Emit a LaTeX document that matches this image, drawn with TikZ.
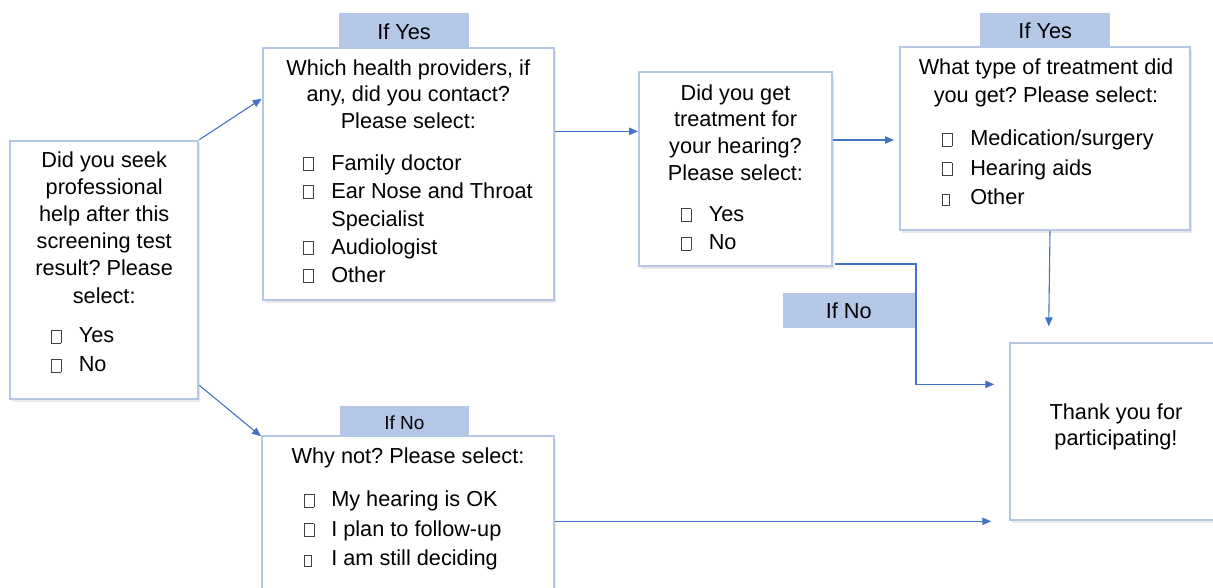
\documentclass[tikz,border=0pt]{standalone}
\usepackage{fontspec}
\setmainfont{Liberation Sans}
\usetikzlibrary{calc,shadows,arrows.meta}
\definecolor{boxc}{HTML}{B4C7E7}
\definecolor{tagc}{HTML}{B4C7E7}
\definecolor{arrc}{HTML}{4472C4}
\frenchspacing
\newcommand\cbx{{\setlength\fboxsep{0pt}\setlength\fboxrule{0.75pt}\color{black!75}\fbox{\rule{0pt}{12.3pt}\hspace{8.6pt}}}}
\newcommand\cbs{{\setlength\fboxsep{0pt}\setlength\fboxrule{0.75pt}\color{black!75}\fbox{\rule{0pt}{9.6pt}\hspace{6.4pt}}}}
\begin{document}
\begin{tikzpicture}[x=1pt,y=-1pt,
  qbox/.style={draw=boxc,line width=2pt,fill=white,inner sep=0pt,
    drop shadow={shadow xshift=2pt,shadow yshift=-2.5pt,opacity=0.18}},
  tagbox/.style={fill=tagc,inner sep=0pt,text depth=0pt,font=\fontsize{21.7}{26}\selectfont},
  ttl/.style={inner sep=0pt,align=center,anchor=north},
  itm/.style={inner sep=0pt,align=left,anchor=north west},
  arr/.style={draw=arrc,line width=1.1pt,-{Triangle[length=9pt,width=7.5pt]}}]
\useasboundingbox (0,0) rectangle (1213,587);

% tags
\node[tagbox,minimum width=130,minimum height=34.4,text height=17.6] (tB) at (404,30.5) {If Yes};
\node[tagbox,minimum width=130.5,minimum height=34.3,text height=16.3] (tD) at (1045.2,29.85) {If Yes};
\node[tagbox,minimum width=131.6,minimum height=35,text height=15.6] (tM) at (848.8,310.2) {If No};
\node[tagbox,minimum width=129.3,minimum height=30,text height=16.6,font=\fontsize{19}{23}\selectfont] (tF) at (404.4,420.7) {If No};

% boxes
\node[qbox,minimum width=188.3,minimum height=258.6] (A) at (104.2,270) {};
\node[qbox,minimum width=291.3,minimum height=251.7] (B) at (408.3,174.2) {};
\node[qbox,minimum width=193,minimum height=194] (C) at (735.5,169) {};
\node[qbox,minimum width=290,minimum height=183] (D) at (1045,138.5) {};
\node[qbox,minimum width=211.5,minimum height=176.7] (E) at (1116,431.7) {};
\node[qbox,minimum width=292,minimum height=170] (F) at (408,521.3) {};

% texts
\node[ttl,font=\fontsize{21.7}{27.2}\selectfont] (At) at (104.2,151.2)
  {Did you seek\\professional\\help after this\\screening test\\result? Please\\select:};
\node[itm,font=\fontsize{21.7}{29}\selectfont] (Ai) at (51,327.5)
  {\cbx\hspace{17.5pt}Yes\\\cbx\hspace{17.5pt}No};

\node[ttl,font=\fontsize{21.7}{26.5}\selectfont] (Bt) at (408.3,59.2)
  {Which health providers, if\\any, did you contact?\\Please select:};
\node[itm,font=\fontsize{21.7}{28}\selectfont] (Bi) at (303,154.2)
  {\cbx\hspace{18pt}Family doctor\\\cbx\hspace{18pt}Ear Nose and Throat\\\phantom{\cbx}\hspace{18pt}Specialist\\\cbx\hspace{18pt}Audiologist\\\cbx\hspace{18pt}Other};

\node[ttl,font=\fontsize{21.7}{26.7}\selectfont] (Ct) at (735.5,84.2)
  {Did you get\\treatment for\\your hearing?\\Please select:};
\node[itm,font=\fontsize{21.7}{28.5}\selectfont] (Ci) at (681,206.2)
  {\cbx\hspace{17.5pt}Yes\\\cbx\hspace{17.5pt}No};

\node[ttl,font=\fontsize{21.7}{28.7}\selectfont] (Dt) at (1046,58.2)
  {What type of treatment did\\you get? Please select:};
\node[itm,font=\fontsize{21.7}{29.5}\selectfont] (Di) at (942,129.9)
  {\cbx\hspace{18pt}Medication/surgery\\\cbx\hspace{18pt}Hearing aids\\\cbs\hspace{20.2pt}Other};

\node[ttl,font=\fontsize{21.7}{27}\selectfont] (Ft) at (408,447.5)
  {Why not? Please select:};
\node[itm,font=\fontsize{21.7}{29.5}\selectfont] (Fi) at (304,490.9)
  {\cbx\hspace{17pt}My hearing is OK\\\cbx\hspace{17pt}I plan to follow-up\\\cbs\hspace{19.2pt}I am still deciding};

\node[ttl,font=\fontsize{21.7}{26}\selectfont] (Et) at (1116,403.5)
  {Thank you for\\participating!};

% connectors
\coordinate (bIn) at ($(B.north west)+(0,51.4)$);
\coordinate (fIn) at ($(F.north west)+(0,1)$);
\coordinate (bOut) at ($(B.north east)+(0,84)$);
\coordinate (cOut) at ($(C.north east)+(0,69)$);
\coordinate (cLow) at ($(C.south east)+(2,-3)$);
\coordinate (elb) at ($(C.south east)+(83,-3)$);
\coordinate (eIn1) at ($(E.north west)+(-15,42)$);
\coordinate (dOut) at ($(D.south)+(5,0)$);
\coordinate (eIn2) at ($(E.north west)+(39.5,-16)$);
\coordinate (eIn3) at ($(E.west)+(-18,0)$);

\draw[arr] (A.north east) -- (bIn);
\draw[arr] ($(A.south east)+(0,-15)$) -- (fIn);
\draw[arr] (bOut) -- (bOut -| C.west);
\draw[arr,shorten >=5pt] (cOut) -- (cOut -| D.west);
\draw[arr] (cLow) -- (elb) |- (eIn1);
\draw[arr] (dOut) -- (eIn2);
\draw[arr] (F.east) -- (F.east -| eIn3);
\end{tikzpicture}
\end{document}
